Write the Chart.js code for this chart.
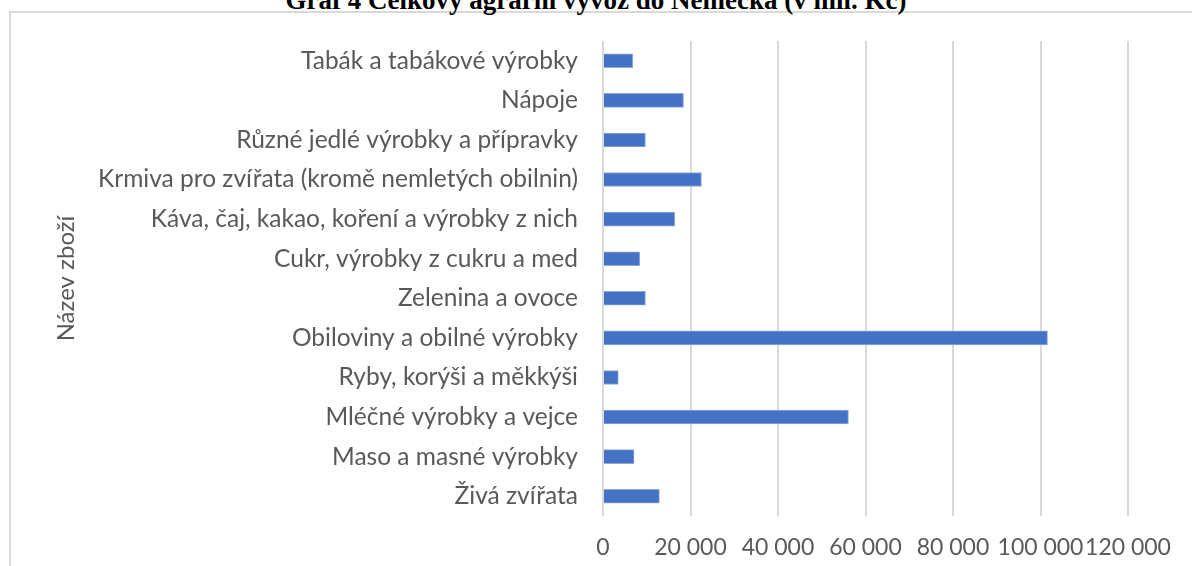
<!DOCTYPE html>
<html>
<head>
<meta charset="utf-8">
<script src="https://cdn.jsdelivr.net/npm/chart.js@4/dist/chart.umd.min.js"></script>
<style>
  html, body { margin: 0; padding: 0; background: #fff; overflow: hidden; }
  #wrap { position: relative; width: 1192px; height: 566px; }
  #frame { position: absolute; left: 9px; top: 11px; width: 1300px; height: 700px; border: 2px solid #d9d9d9; box-sizing: border-box; }
  #title { position: absolute; left: 0; width: 1192px; top: -15px; text-align: center; font-family: "Liberation Serif", "Times New Roman", serif; font-weight: bold; font-size: 27px; line-height: 30px; color: #000; white-space: nowrap; }
  canvas { position: absolute; left: 0; top: 0; }
</style>
</head>
<body>
<div id="wrap">
  <div id="frame"></div>
  <div id="title">Graf 4 Celkový agrární vývoz do Německa (v mil. Kč)</div>
  <canvas id="c" width="1192" height="566"></canvas>
</div>
<script>
const categories = [
  "Tabák a tabákové výrobky",
  "Nápoje",
  "Různé jedlé výrobky a přípravky",
  "Krmiva pro zvířata (kromě nemletých obilnin)",
  "Káva, čaj, kakao, koření a výrobky z nich",
  "Cukr, výrobky z cukru a med",
  "Zelenina a ovoce",
  "Obiloviny a obilné výrobky",
  "Ryby, korýši a měkkýši",
  "Mléčné výrobky a vejce",
  "Maso a masné výrobky",
  "Živá zvířata"
];
const exportValues = [6800, 18400, 9700, 22500, 16400, 8400, 9700, 101600, 3500, 56100, 7100, 12900];
const axisMin = 0;
const axisMax = 120000;
const axisStep = 20000;
const axisTitle = "Název zboží";

function fmt(v) {
  return String(v).replace(/\B(?=(\d{3})+(?!\d))/g, " ");
}

const FONT = "Lato, 'Open Sans', sans-serif";

new Chart(document.getElementById("c"), {
  type: "bar",
  data: {
    labels: categories,
    datasets: [{
      data: exportValues,
      backgroundColor: "#4472c4",
      borderColor: "#8faadc",
      borderWidth: 1,
      barThickness: 14
    }]
  },
  options: {
    indexAxis: "y",
    responsive: false,
    animation: false,
    layout: { padding: { top: 41, right: 64, left: 0, bottom: 0 } },
    plugins: { legend: { display: false }, tooltip: { enabled: false }, title: { display: false } },
    scales: {
      x: {
        min: axisMin, max: axisMax,
        border: { display: false },
        grid: { color: "#d9d9d9", lineWidth: 2, drawTicks: false },
        ticks: {
          stepSize: axisStep, autoSkip: false, maxRotation: 0, padding: 18,
          color: "#595959", font: { family: FONT, size: 23 },
          callback: v => fmt(v)
        },
        afterFit: s => { s.height = 50; }
      },
      y: {
        border: { display: false },
        grid: { display: false, drawTicks: false },
        ticks: { padding: 25, color: "#595959", font: { family: FONT, size: 24.5 }, autoSkip: false },
        title: { display: true, text: axisTitle, color: "#595959", font: { family: FONT, size: 24 }, padding: { top: 52, bottom: 0 } },
        afterFit: s => { s.width = 603; }
      }
    }
  }
});
</script>
</body>
</html>
